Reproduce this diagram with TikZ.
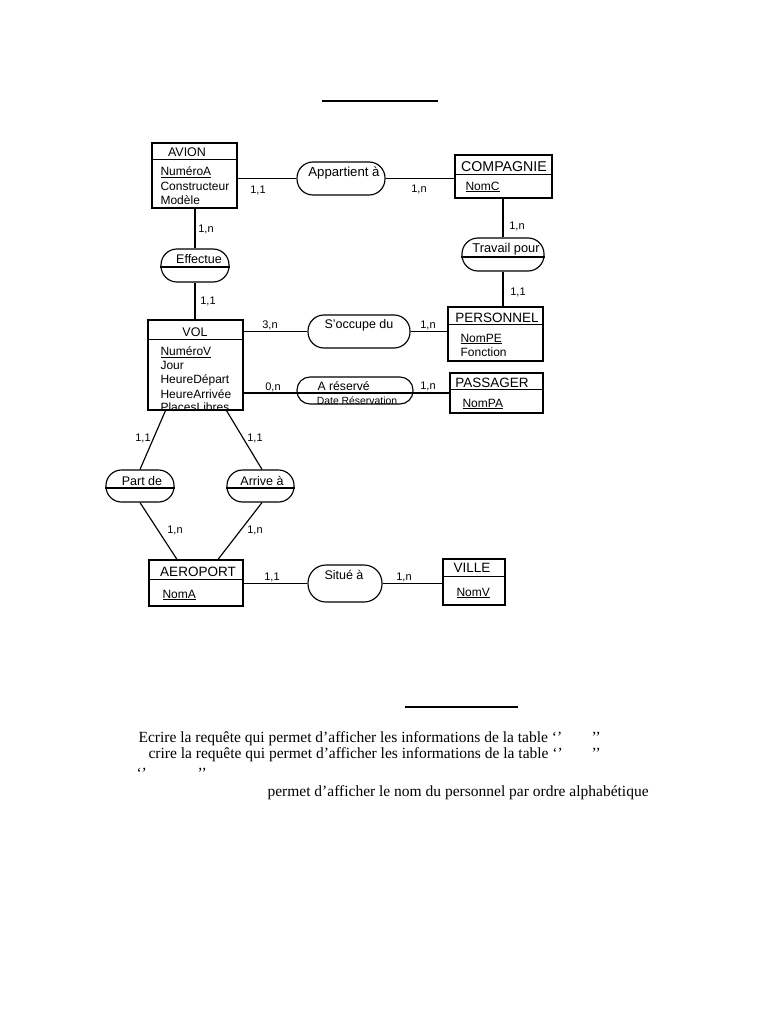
\documentclass[tikz,border=0pt]{standalone}
\usepackage{fontspec}
\setmainfont{Liberation Serif}
\setsansfont{Liberation Sans}
\newcommand{\fsz}[1]{\fontsize{#1}{#1}\selectfont}

\begin{document}
\begin{tikzpicture}[x=1pt,y=-1pt,line width=1.15pt,
  entite/.style={draw,rectangle,inner sep=0pt},
  relation/.style={draw,rectangle,inner sep=0pt},
  titre/.style={font=\sffamily\fsz{13.5},inner sep=0pt},
  attr/.style={font=\sffamily\fsz{12},anchor=west,inner sep=0pt},
  nomrel/.style={font=\sffamily\fsz{12.5},inner sep=0pt},
  card/.style={font=\sffamily\fsz{11},inner sep=0pt},
  texte/.style={font=\fsz{15.5},anchor=base west,inner sep=0pt}]
\fill[white] (0,0) rectangle (768,1024);
\useasboundingbox (0,0) rectangle (768,1024);

\draw (322,101) -- (438,101);
\draw (405,707) -- (518,707);

\node[entite,minimum width=85pt,minimum height=65pt] (avion) at (194.5,175.5) {};
\draw ([yshift=-17pt]avion.north west) -- ([yshift=-17pt]avion.north east);
\node[titre,font=\sffamily\fsz{12.5}] (avion-t) at (187,152) {AVION};
\node[attr] (avion-a1) at (160,172) {\underline{NuméroA}};
\node[attr] (avion-a2) at (160,186) {Constructeur};
\node[attr] (avion-a3) at (160,200) {Modèle};

\node[entite,minimum width=97pt,minimum height=43pt] (compagnie) at (503.5,176.5) {};
\draw ([yshift=-20pt]compagnie.north west) -- ([yshift=-20pt]compagnie.north east);
\node[titre,font=\sffamily\fsz{14.2}] (compagnie-t) at (504,167) {COMPAGNIE};
\node[attr] (compagnie-a1) at (465,187) {\underline{NomC}};

\node[entite,minimum width=95pt,minimum height=54pt] (personnel) at (495.5,334) {};
\draw ([yshift=-18pt]personnel.north west) -- ([yshift=-18pt]personnel.north east);
\node[titre] (personnel-t) at (497,318) {PERSONNEL};
\node[attr] (personnel-a1) at (460,339) {\underline{NomPE}};
\node[attr] (personnel-a2) at (460,352) {Fonction};

\node[entite,minimum width=95pt,minimum height=90pt] (vol) at (195.5,365) {};
\draw ([yshift=-20pt]vol.north west) -- ([yshift=-20pt]vol.north east);
\node[titre,font=\sffamily\fsz{12.5}] (vol-t) at (195,332) {VOL};
\node[attr] (vol-a1) at (160,352) {\underline{NuméroV}};
\node[attr] (vol-a2) at (160,365) {Jour};
\node[attr] (vol-a3) at (160,380) {HeureDépart};
\node[attr] (vol-a4) at (160,394) {HeureArrivée};
\node[attr] (vol-a5) at (160,407) {PlacesLibres};

\node[entite,minimum width=93pt,minimum height=40pt] (passager) at (496.5,393) {};
\draw ([yshift=-17pt]passager.north west) -- ([yshift=-17pt]passager.north east);
\node[titre] (passager-t) at (492,383) {PASSAGER};
\node[attr] (passager-a1) at (462,404) {\underline{NomPA}};

\node[entite,minimum width=94pt,minimum height=46pt] (aeroport) at (196,583) {};
\draw ([yshift=-20pt]aeroport.north west) -- ([yshift=-20pt]aeroport.north east);
\node[titre] (aeroport-t) at (198,572) {AEROPORT};
\node[attr] (aeroport-a1) at (162,595) {\underline{NomA}};

\node[entite,minimum width=62pt,minimum height=46pt] (ville) at (474,582) {};
\draw ([yshift=-18pt]ville.north west) -- ([yshift=-18pt]ville.north east);
\node[titre] (ville-t) at (472,568) {VILLE};
\node[attr] (ville-a1) at (456,593) {\underline{NomV}};

\node[relation,rounded corners=16pt,minimum width=88pt,minimum height=33pt] (appart) at (341,178.5) {};
\node[nomrel,font=\sffamily\fsz{13.2}] (appart-t) at (344,173) {Appartient à};

\node[relation,rounded corners=16pt,minimum width=68pt,minimum height=33pt] (effect) at (195,265.5) {};
\draw ([yshift=-1.5pt]effect.west) -- ([yshift=-1.5pt]effect.east);
\node[nomrel] (effect-t) at (199,259) {Effectue};

\node[relation,rounded corners=16pt,minimum width=82pt,minimum height=33pt] (travail) at (503,254.5) {};
\draw ([yshift=-2.5pt]travail.west) -- ([yshift=-2.5pt]travail.east);
\node[nomrel,font=\sffamily\fsz{12.8}] (travail-t) at (506,249) {Travail pour};

\node[relation,rounded corners=16pt,minimum width=102pt,minimum height=33pt] (occupe) at (359,331.5) {};
\node[nomrel] (occupe-t) at (359,325) {S'occupe du};

\node[relation,rounded corners=13pt,minimum width=116pt,minimum height=27pt] (reserve) at (355,390.5) {};
\coordinate (reserve-w) at ([yshift=-2.5pt]reserve.west);
\coordinate (reserve-e) at ([yshift=-2.5pt]reserve.east);
\draw (reserve-w) -- (reserve-e);
\node[nomrel,font=\sffamily\fsz{12.2},anchor=west] (reserve-t) at (317,386) {A réservé};
\node[nomrel,font=\sffamily\fsz{10.4}] (reserve-a1) at (357,401) {Date Réservation};

\node[relation,rounded corners=15.5pt,minimum width=68pt,minimum height=32pt] (partde) at (140,486) {};
\draw ([yshift=-2pt]partde.west) -- ([yshift=-2pt]partde.east);
\node[nomrel] (partde-t) at (142,481) {Part de};

\node[relation,rounded corners=15.5pt,minimum width=67pt,minimum height=32pt] (arrive) at (260.5,486) {};
\draw ([yshift=-2pt]arrive.west) -- ([yshift=-2pt]arrive.east);
\node[nomrel] (arrive-t) at (262,481) {Arrive à};

\node[relation,rounded corners=18pt,minimum width=74pt,minimum height=37pt] (situe) at (345,583.5) {};
\node[nomrel] (situe-t) at (344,575) {Situé à};

\draw (avion.east |- appart.west) -- (appart.west);
\draw (appart.east) -- (appart.east -| compagnie.west);
\draw (effect.north) -- (effect.north |- avion.south);
\draw (effect.south) -- (effect.south |- vol.north);
\draw (travail.north) -- (travail.north |- compagnie.south);
\draw (travail.south) -- (travail.south |- personnel.north);
\draw (vol.east |- occupe.west) -- (occupe.west);
\draw (occupe.east) -- (occupe.east -| personnel.west);
\draw (vol.east |- reserve-w) -- (reserve-w);
\draw (reserve-e) -- (reserve-e -| passager.west);
\draw ([xshift=-30pt]vol.south) -- (partde.north);
\draw ([xshift=31pt]vol.south) -- ([xshift=1.5pt]arrive.north);
\draw (partde.south) -- ([xshift=-19pt]aeroport.north);
\draw ([xshift=1.5pt]arrive.south) -- ([xshift=22pt]aeroport.north);
\draw (aeroport.east |- situe.west) -- (situe.west);
\draw (situe.east) -- (situe.east -| ville.west);

\node[card] (c1) at (258,190) {1,1};
\node[card] (c2) at (419,189) {1,n};
\node[card] (c3) at (206,229) {1,n};
\node[card] (c4) at (208,301) {1,1};
\node[card] (c5) at (517,226) {1,n};
\node[card] (c6) at (518,292) {1,1};
\node[card] (c7) at (270,325) {3,n};
\node[card] (c8) at (428,325) {1,n};
\node[card] (c9) at (273,387) {0,n};
\node[card] (c10) at (428,386) {1,n};
\node[card] (c11) at (143,438) {1,1};
\node[card] (c12) at (255,438) {1,1};
\node[card] (c13) at (175,530) {1,n};
\node[card] (c14) at (255,530) {1,n};
\node[card] (c15) at (272,577) {1,1};
\node[card] (c16) at (404,577) {1,n};

\node[texte] (ligne1) at (138,742) {Ecrire la requête qui permet d’afficher les informations de la table ‘’};
\node[texte] (ligne1b) at (591,742) {’’};
\node[texte] (ligne2) at (148,758) {crire la requête qui permet d’afficher les informations de la table ‘’};
\node[texte] (ligne2b) at (591,758) {’’};
\node[texte] (ligne3a) at (136,778) {‘’};
\node[texte] (ligne3b) at (197,778) {’’};
\node[texte] (ligne4) at (267,796) {permet d’afficher le nom du personnel par ordre alphabétique};
\end{tikzpicture}
\end{document}
